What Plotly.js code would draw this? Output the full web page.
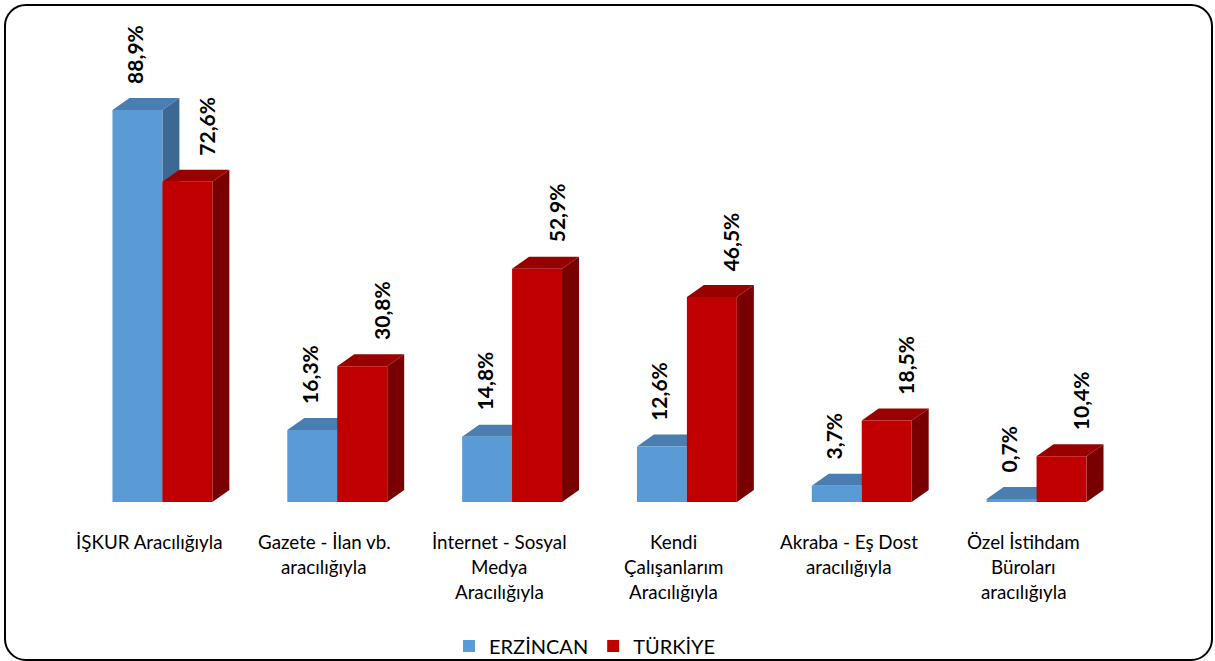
<!DOCTYPE html>
<html>
<head>
<meta charset="utf-8">
<script src="https://cdn.plot.ly/plotly-3.0.1.min.js"></script>
<style>
  html, body { margin: 0; padding: 0; background: #ffffff; }
  #wrap { position: relative; width: 1215px; height: 661px; overflow: hidden; }
  #chart { position: absolute; left: 0; top: 0; width: 1215px; height: 661px; }
  #frame { position: absolute; left: 4px; top: 4px; width: 1209px; height: 657px;
           box-sizing: border-box; border: 2px solid #000; border-radius: 22px; pointer-events: none; }
</style>
</head>
<body>
<div id="wrap">
  <div id="chart"></div>
  <div id="frame"></div>
</div>
<script>
// ---- data ----
const categories = [
  "İŞKUR Aracılığıyla",
  "Gazete - İlan vb.<br>aracılığıyla",
  "İnternet - Sosyal<br>Medya<br>Aracılığıyla",
  "Kendi<br>Çalışanlarım<br>Aracılığıyla",
  "Akraba - Eş Dost<br>aracılığıyla",
  "Özel İstihdam<br>Büroları<br>aracılığıyla"
];
const erzincan = [88.9, 16.3, 14.8, 12.6, 3.7, 0.7];
const turkiye  = [72.6, 30.8, 52.9, 46.5, 18.5, 10.4];
const seriesNames = ["ERZİNCAN", "TÜRKİYE"];

// ---- layout constants ----
const W = 1215, H = 661;
const M = { l: 74.5, r: 90.5, t: 61, b: 159, autoexpand: false };
const X_RANGE = [-0.5, 5.5];
const Y_RANGE = [0, 100];
const pxPerX = (W - M.l - M.r) / (X_RANGE[1] - X_RANGE[0]);
const pxPerY = (H - M.t - M.b) / (Y_RANGE[1] - Y_RANGE[0]);
const BAR_W = 50 / pxPerX;
const DX = 17 / pxPerX;
const DY = 12 / pxPerY;

const FONT = "Lato, 'Open Sans', sans-serif";
const colors = {
  blue: { front: "#5B9BD5", top: "#4A7DB0", side: "#3D6892" },
  red:  { front: "#C00000", top: "#990000", side: "#790000" }
};

const xs = categories.map((_, i) => i);
const fmt = v => v.toFixed(1).replace(".", ",") + "%";

const traces = [
  { type: "bar", name: seriesNames[0], x: xs, y: erzincan, width: BAR_W, offset: -BAR_W,
    marker: { color: colors.blue.front, line: { width: 0 } }, hoverinfo: "skip" },
  { type: "bar", name: seriesNames[1], x: xs, y: turkiye, width: BAR_W, offset: 0,
    marker: { color: colors.red.front, line: { width: 0 } }, hoverinfo: "skip" }
];

function faces(values, off, c) {
  const out = [];
  values.forEach((h, i) => {
    const x0 = i + off, x1 = x0 + BAR_W;
    out.push({ type: "path", xref: "x", yref: "y", layer: "below", line: { width: 0 }, fillcolor: c.side,
      path: `M ${x1},0 L ${x1 + DX},${DY} L ${x1 + DX},${h + DY} L ${x1},${h} Z` });
    out.push({ type: "path", xref: "x", yref: "y", layer: "below", line: { width: 0 }, fillcolor: c.top,
      path: `M ${x0},${h} L ${x1},${h} L ${x1 + DX},${h + DY} L ${x0 + DX},${h + DY} Z` });
  });
  return out;
}
const shapes = [...faces(erzincan, -BAR_W, colors.blue), ...faces(turkiye, 0, colors.red)];

const annotations = [];
function valueLabels(values, off, xshift) {
  values.forEach((v, i) => {
    annotations.push({ x: i + off + BAR_W / 2, y: v, xref: "x", yref: "y", text: fmt(v),
      textangle: -90, showarrow: false, xanchor: "center", yanchor: "bottom",
      xshift: xshift, yshift: 24, font: { family: FONT, size: 21, color: "#000", weight: "bold" } });
  });
}
valueLabels(erzincan, -BAR_W, -3);
valueLabels(turkiye, 0, 19);

// category labels (one annotation per line for Excel-like line spacing)
categories.forEach((cat, i) => {
  cat.split("<br>").forEach((line, j) => {
    annotations.push({ x: i, y: 0, xref: "x", yref: "y", text: line, showarrow: false,
      xanchor: "center", yanchor: "middle", xshift: -13, yshift: -(39 + 25 * j),
      font: { family: FONT, size: 18.8, color: "#000" } });
  });
});

const layout = {
  width: W, height: H,
  margin: M,
  paper_bgcolor: "rgba(0,0,0,0)",
  plot_bgcolor: "rgba(0,0,0,0)",
  showlegend: true,
  legend: { orientation: "h", x: (585 - M.l) / (W - M.l - M.r), xanchor: "center",
            y: -(646 - (H - M.b)) / (H - M.t - M.b), yanchor: "middle",
            font: { family: FONT, size: 20, color: "#000" }, itemsizing: "constant", traceorder: "normal" },
  xaxis: { range: X_RANGE, showticklabels: false, showgrid: false, zeroline: false, showline: false, ticks: "", fixedrange: true },
  yaxis: { range: Y_RANGE, showticklabels: false, showgrid: false, zeroline: false, showline: false, ticks: "", fixedrange: true },
  shapes: shapes,
  annotations: annotations
};

Plotly.newPlot("chart", traces, layout, { staticPlot: true, displayModeBar: false });
</script>
</body>
</html>
